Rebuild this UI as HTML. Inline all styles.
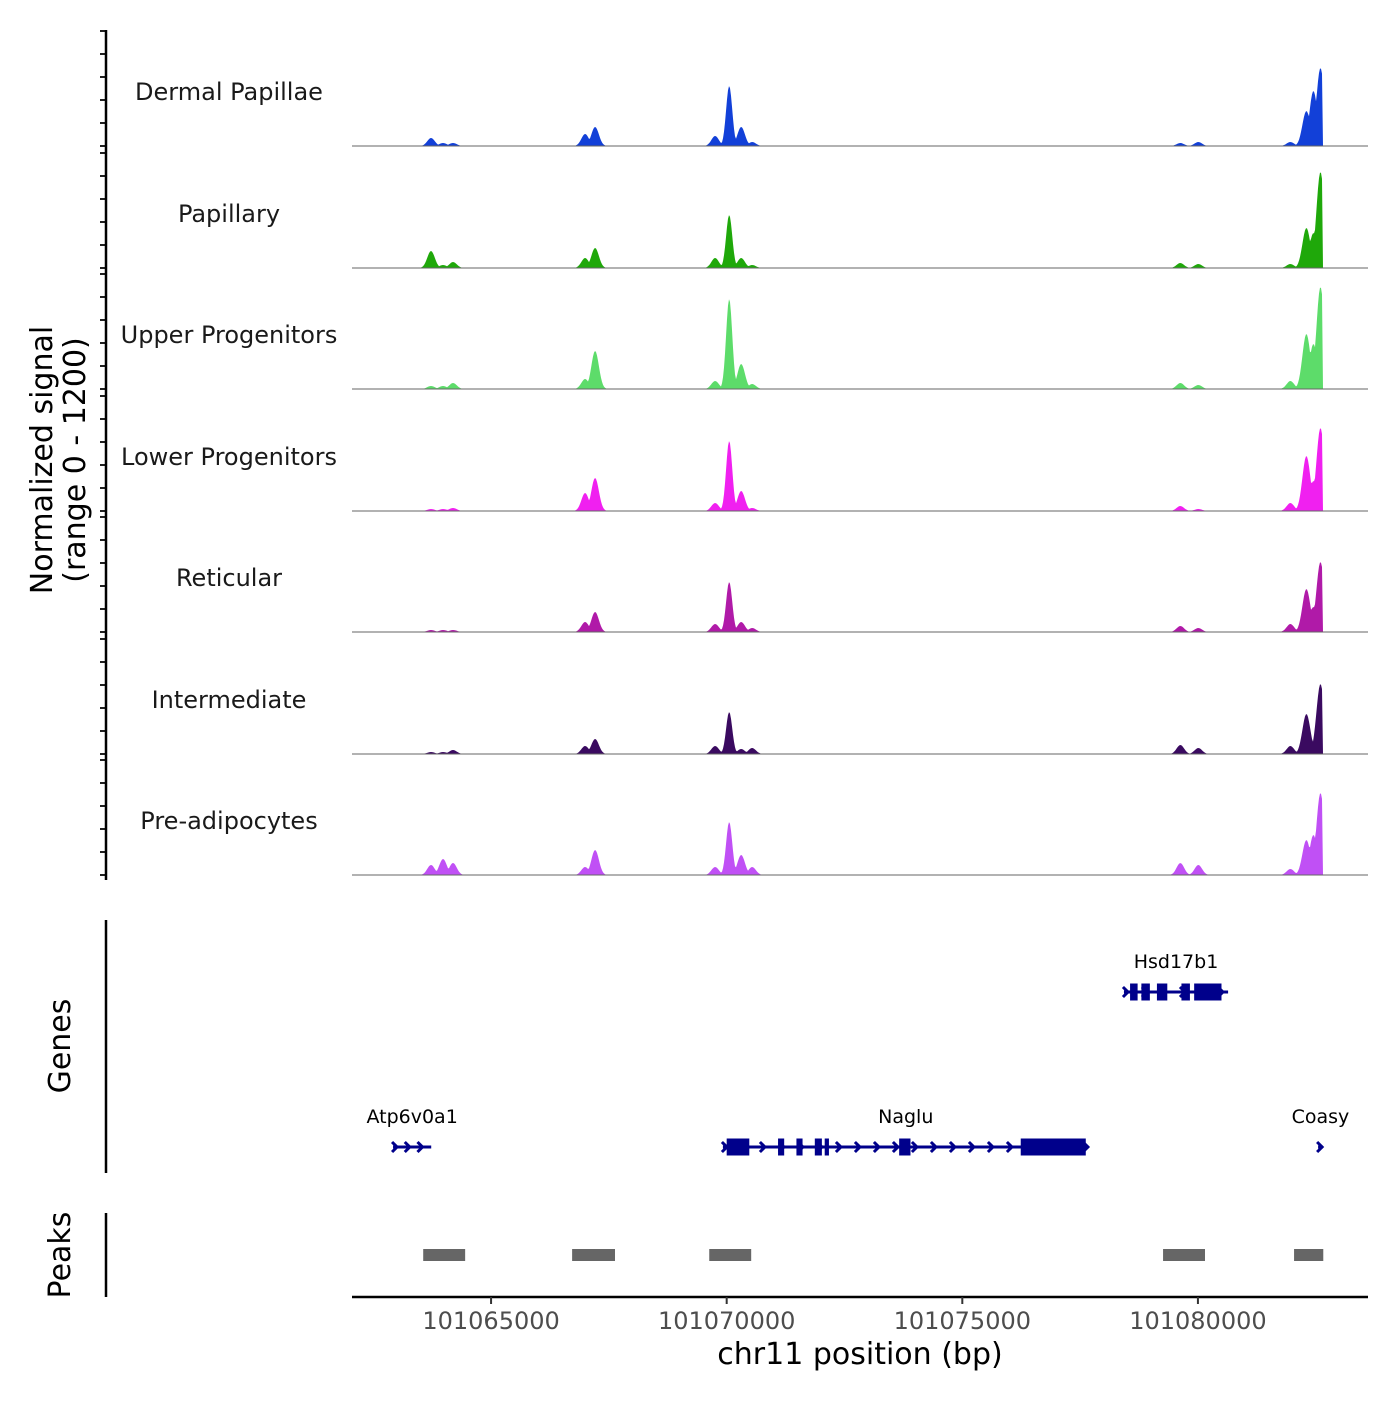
<!DOCTYPE html>
<html><head><meta charset="utf-8">
<style>
html,body{margin:0;padding:0;background:#fff;}
svg text{font-family:"DejaVu Sans","Liberation Sans",sans-serif;}
</style></head>
<body>
<svg id="chart" xmlns="http://www.w3.org/2000/svg" width="1400" height="1400" viewBox="0 0 1400 1400">
<rect width="1400" height="1400" fill="#fff"/>
</svg>
<script>
// ---- data ----
const trackNames = ["Dermal Papillae","Papillary","Upper Progenitors","Lower Progenitors","Reticular","Intermediate","Pre-adipocytes"];
const trackColors = ["#1240d8","#1fa80a","#5ddc6a","#f020f0","#b01aa8","#3a0a60","#c050f5"];
const peakPositions = [101063726,101063981,101064193,101066996,101067208,101069755,101070053,101070308,101070541,101079627,101080009,101081962,101082302,101082451,101082600];
const sigDermal   = [80,30,30,120,190,100,600,190,40,30,40,40,350,550,780];
const sigPapillary= [170,30,60,100,200,100,530,100,30,50,40,40,400,350,960];
const sigUpper    = [30,30,60,100,380,80,900,250,50,60,40,80,550,450,1020];
const sigLower    = [20,20,30,180,330,80,700,200,30,50,20,80,550,300,830];
const sigReticular= [20,20,20,100,200,80,500,100,40,60,40,80,430,250,700];
const sigInter    = [20,20,40,80,150,80,420,50,60,90,60,80,400,120,700];
const sigPreadipo = [100,160,120,80,250,80,530,200,80,120,100,60,350,400,820];
const trackSignals = [sigDermal,sigPapillary,sigUpper,sigLower,sigReticular,sigInter,sigPreadipo];
const xTicks = [101065000,101070000,101075000,101080000];
const genes = [
 {name:"Atp6v0a1",start:101062920,end:101063730,row:1,exons:[]},
 {name:"Naglu",start:101069920,end:101077680,row:1,exons:[[101070000,101070480],[101071090,101071220],[101071480,101071610],[101071870,101072020],[101072080,101072170],[101073660,101073900],[101076240,101077620]]},
 {name:"Hsd17b1",start:101078430,end:101080640,row:0,exons:[[101078560,101078720],[101078800,101078980],[101079130,101079350],[101079650,101079830],[101079920,101080500]]},
 {name:"Coasy",start:101082550,end:101082650,row:1,exons:[]}
];
const peakRegions = [[101063560,101064450],[101066720,101067630],[101069630,101070520],[101079260,101080150],[101082040,101082660]];

// ---- scales ----
const X0=352,X1=1368,BP0=101062049,BP1=101083609;
const xs = bp => X0 + (bp-BP0)/(BP1-BP0)*(X1-X0);
const YMAX=1200, PH=120;
const baselines=[146,268,389,511,632,754,875];
const ys = (v,i) => baselines[i] - v/YMAX*PH;
const NS="http://www.w3.org/2000/svg";
const svg=document.getElementById('chart');
function el(tag,attrs,parent){const e=document.createElementNS(NS,tag);for(const k in attrs)e.setAttribute(k,attrs[k]);(parent||svg).appendChild(e);return e;}

// ---- coverage tracks ----
const clipEnd = 101082650;
trackNames.forEach((name,i)=>{
  const g=el('g',{});
  
  
  const sig=trackSignals[i];
  let pts=[];
  for(let px=X0;px<=X1;px+=1){
    const bp=BP0+(px-X0)/(X1-X0)*(BP1-BP0);
    let v=0;
    if(bp<=clipEnd){
      peakPositions.forEach((p,k)=>{
        const s = k>=12?85:(k==6?65:80);
        const d=(bp-p)/s;
        v=Math.max(v,sig[k]*Math.exp(-d*d/2));
      });
    }
    pts.push([px,ys(v,i)]);
  }
  let d='M'+X0+','+baselines[i]+' '+pts.map(p=>'L'+p[0]+','+p[1].toFixed(1)).join(' ')+' L'+X1+','+baselines[i]+'Z';
  const a=el('path',{d:d,fill:trackColors[i]},g);
  
  
  const bl=el('line',{x1:X0,x2:X1,y1:baselines[i],y2:baselines[i],stroke:'#666','stroke-width':1},g);
  
  
  const t=el('text',{x:229,y:baselines[i]-46,'text-anchor':'middle','font-size':24,fill:'#1a1a1a'},g);
  t.textContent=name;
  
  
  for(let k=0;k<6;k++){
    const tk=el('line',{x1:100,x2:106,y1:baselines[i]-k*23,y2:baselines[i]-k*23,stroke:'#222','stroke-width':2},g);
    
    
  }
});
const yax=el('line',{x1:106,x2:106,y1:30,y2:880,stroke:'#000','stroke-width':2.5});


const yt=el('text',{transform:'translate(52,460) rotate(-90)','text-anchor':'middle','font-size':30,fill:'#000'});


yt.innerHTML='<tspan x="0" dy="0">Normalized signal</tspan><tspan x="0" dy="33">(range 0 - 1200)</tspan>';

// ---- genes ----
const rowY=[992,1147];
const gax=el('line',{x1:106,x2:106,y1:920,y2:1173,stroke:'#000','stroke-width':2.5});


const gt=el('text',{transform:'translate(70,1046) rotate(-90)','text-anchor':'middle','font-size':30,fill:'#000'});
gt.textContent='Genes';


genes.forEach(gn=>{
  const g=el('g',{});
  
  
  const y=rowY[gn.row], a=xs(gn.start), b=xs(gn.end);
  el('line',{x1:a,x2:b,y1:y,y2:y,stroke:'#00008b','stroke-width':3},g);
  for(let x=a+3;x<=b+1;x+=Math.max(10,Math.min(19,(b-a)/3))){
    el('path',{d:`M${x-4},${y-5} L${x+1},${y} L${x-4},${y+5}`,stroke:'#00008b','stroke-width':3,fill:'none'},g);
  }
  gn.exons.forEach(ex=>{
    el('rect',{x:xs(ex[0]),y:y-8.5,width:Math.max(4,xs(ex[1])-xs(ex[0])),height:17,fill:'#00008b'},g);
  });
  const t=el('text',{x:(a+b)/2,y:y-24,'text-anchor':'middle','font-size':19,fill:'#000'},g);
  t.textContent=gn.name;
  
  
});

// ---- peaks ----
const pax=el('line',{x1:106,x2:106,y1:1213,y2:1297,stroke:'#000','stroke-width':2.5});


const pt=el('text',{transform:'translate(70,1255) rotate(-90)','text-anchor':'middle','font-size':30,fill:'#000'});
pt.textContent='Peaks';


peakRegions.forEach(r=>{
  const p=el('rect',{x:xs(r[0]),y:1249,width:xs(r[1])-xs(r[0]),height:12,fill:'#666'});
  
  
});

// ---- x axis ----
const xax=el('line',{x1:X0,x2:X1,y1:1297,y2:1297,stroke:'#000','stroke-width':2.5});


xTicks.forEach(v=>{
  const tk=el('line',{x1:xs(v),x2:xs(v),y1:1297,y2:1304,stroke:'#333','stroke-width':2});
  
  
  const tl=el('text',{x:xs(v),y:1329,'text-anchor':'middle','font-size':24,fill:'#4d4d4d'});
  tl.textContent=v;
  
  
});
const xt=el('text',{x:860,y:1364,'text-anchor':'middle','font-size':30,fill:'#000'});
xt.textContent='chr11 position (bp)';


</script>
</body></html>
